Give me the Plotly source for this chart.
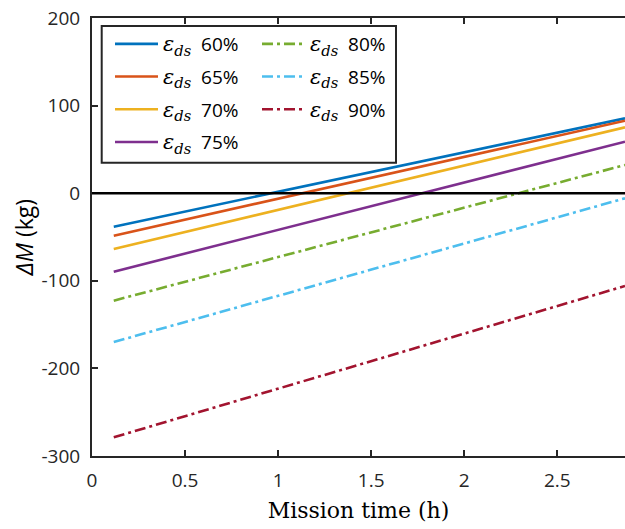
import plotly.graph_objects as go

# ---- data ----
mission_time = [0.117, 2.864]          # h, start and end of each line
eff_labels = ["60%", "65%", "70%", "75%", "80%", "85%", "90%"]
dm_60 = [-38.2, 85.5]
dm_65 = [-48.5, 82.8]
dm_70 = [-63.7, 75.2]
dm_75 = [-89.6, 58.8]
dm_80 = [-122.7, 32.2]
dm_85 = [-169.9, -5.8]
dm_90 = [-278.7, -105.9]
series = [dm_60, dm_65, dm_70, dm_75, dm_80, dm_85, dm_90]

x_tickvals = [0, 0.5, 1, 1.5, 2, 2.5]
x_ticktext = ["0", "0.5", "1", "1.5", "2", "2.5"]
y_tickvals = [-300, -200, -100, 0, 100, 200]
y_ticktext = ["-300", "-200", "-100", "0", "100", "200"]

# ---- styles ----
colors = ["#0072BD", "#D95319", "#EDB120", "#7E2F8E", "#77AC30", "#4DBEEE", "#A2142F"]
dashes = ["solid", "solid", "solid", "solid", "11px,4px,3px,4px", "11px,4px,3px,4px", "11px,4px,3px,4px"]
legends = ["legend", "legend", "legend", "legend", "legend2", "legend2", "legend2"]

W, H = 625, 529
ML, MR, MT, MB = 92, 0, 18, 73
PW, PH = W - ML - MR, H - MT - MB

def px_x(p):
    return (p - ML) / PW

def px_y(p):
    return (H - MB - p) / PH

fig = go.Figure()
for lab, vals, c, d, lg in zip(eff_labels, series, colors, dashes, legends):
    name = ("<span style=\"font-family:'DejaVu Serif';font-size:21px\"><i>ε</i><sub><i>ds</i></sub></span>"
            "  " + lab)
    fig.add_trace(go.Scatter(
        x=mission_time, y=vals, mode="lines", name=name,
        line=dict(color=c, width=2.6, dash=d),
        legend=lg, legendgroup=lab,
    ))

axis_col = "#262626"
tick_font = dict(family="Open Sans", size=19, color=axis_col)

fig.update_layout(
    width=W, height=H,
    margin=dict(l=ML, r=MR, t=MT, b=MB, pad=0),
    paper_bgcolor="white", plot_bgcolor="white",
    showlegend=True,
    xaxis=dict(
        range=[0, 2.864], tickvals=x_tickvals, ticktext=x_ticktext,
        showgrid=False, zeroline=False,
        showline=True, linecolor=axis_col, linewidth=2, mirror="allticks",
        ticks="inside", ticklen=6, tickwidth=1.6, tickcolor=axis_col,
        tickfont=tick_font, ticklabelstandoff=6,
        title=dict(text="Mission time (h)", standoff=11,
                   font=dict(family="DejaVu Serif", size=22, color="#000000")),
    ),
    yaxis=dict(
        range=[-300, 200], tickvals=y_tickvals, ticktext=y_ticktext,
        showgrid=False, zeroline=False,
        showline=True, linecolor=axis_col, linewidth=2, mirror=False,
        ticks="inside", ticklen=6, tickwidth=1.6, tickcolor=axis_col,
        tickfont=tick_font, ticklabelstandoff=6,
        title=dict(text="<i>ΔM</i> (kg)", standoff=1,
                   font=dict(family="Open Sans", size=23, color="#000000")),
    ),
    legend=dict(
        x=px_x(110), xanchor="left", y=px_y(25), yanchor="top",
        bgcolor="rgba(0,0,0,0)", borderwidth=0, itemwidth=43,
        font=dict(family="Open Sans", size=19, color="#000000"),
        tracegroupgap=5, traceorder="grouped",
    ),
    legend2=dict(
        x=px_x(257), xanchor="left", y=px_y(25), yanchor="top",
        bgcolor="rgba(0,0,0,0)", borderwidth=0, itemwidth=43,
        font=dict(family="Open Sans", size=19, color="#000000"),
        tracegroupgap=5, traceorder="grouped",
    ),
    shapes=[
        dict(type="rect", xref="paper", yref="paper",
             x0=px_x(101.7), x1=px_x(396), y0=px_y(162.7), y1=px_y(26),
             line=dict(color=axis_col, width=2), fillcolor="white", layer="below"),
        dict(type="line", xref="paper", yref="y", x0=0, x1=1, y0=0, y1=0,
             line=dict(color="#000000", width=2.6), layer="above"),
    ],
)

fig.write_html("out.html")
